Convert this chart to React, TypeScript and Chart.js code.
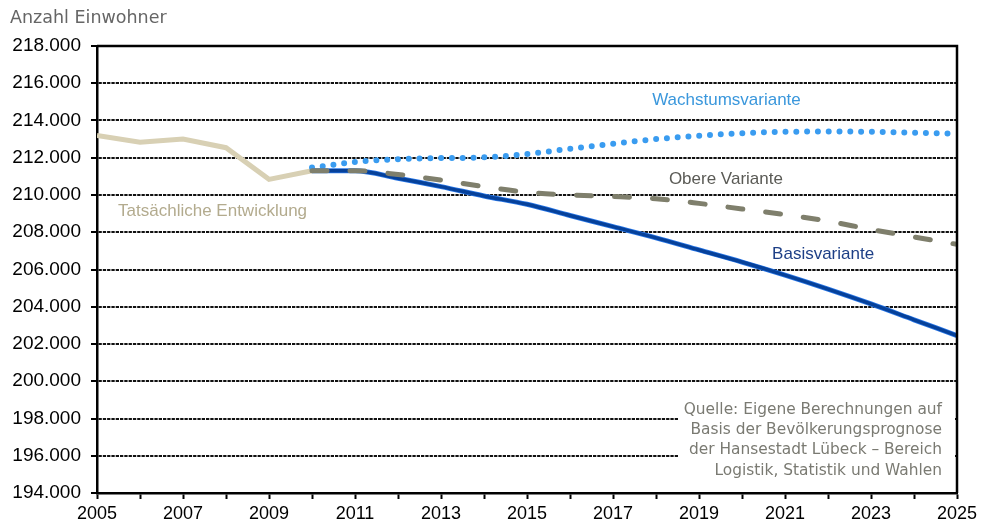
import React, { useEffect, useRef } from "react";
import { Chart, registerables } from "chart.js";

Chart.register(...registerables);

const actualYears = [2005, 2006, 2007, 2008, 2009, 2010];
const actualValues = [213200, 212830, 213000, 212540, 210840, 211300];

const projYears = [2010, 2011, 2012, 2013, 2014, 2015, 2016, 2017, 2018, 2019, 2020, 2021, 2022, 2023, 2024, 2025];
const basisValues = [211300, 211300, 210900, 210450, 209950, 209500, 208900, 208300, 207700, 207050, 206400, 205700, 204950, 204150, 203300, 202450];
const obereValues = [211300, 211300, 211100, 210800, 210450, 210150, 210000, 209920, 209800, 209550, 209250, 208950, 208600, 208150, 207750, 207350];
const wachstumValues = [211470, 211770, 211920, 211980, 212020, 212200, 212480, 212750, 213000, 213180, 213320, 213390, 213410, 213390, 213350, 213280];

const yMin = 194000;
const yMax = 218000;
const yStep = 2000;
const xMin = 2005;
const xMax = 2025;

const yAxisTitle = "Anzahl Einwohner";
const sourceLines = [
  "Quelle: Eigene Berechnungen auf",
  "Basis der Bevölkerungsprognose",
  "der Hansestadt Lübeck – Bereich",
  "Logistik, Statistik und Wahlen",
];

const seriesLabels = [
  { text: "Wachstumsvariante", x: 2017.91, y: 215100, color: "#3a97dc" },
  { text: "Obere Variante", x: 2018.3, y: 210860, color: "#5a5a55" },
  { text: "Basisvariante", x: 2020.7, y: 206830, color: "#1d3f86" },
  { text: "Tatsächliche Entwicklung", x: 2005.49, y: 209140, color: "#b3ab8e" },
];

const toPoints = (xs: number[], ys: number[]) => xs.map((x, i) => ({ x, y: ys[i] }));

const fmt = (v: number) => {
  const s = String(Math.round(v));
  return s.replace(/\B(?=(\d{3})+(?!\d))/g, ".");
};

const overlayPlugin = {
  id: "overlay",
  afterDatasetsDraw(chart: any) {
    const { ctx, chartArea, scales } = chart;
    const xs = scales.x;
    const ys = scales.y;
    ctx.save();

    // source box
    ctx.fillStyle = "#fff";
    ctx.fillRect(chartArea.right - 279, chartArea.bottom - 106, 277, 104);
    ctx.fillStyle = "#7a7a72";
    ctx.font = "15.4px 'DejaVu Sans', sans-serif";
    ctx.textAlign = "right";
    ctx.textBaseline = "middle";
    sourceLines.forEach((l, i) => {
      ctx.fillText(l, chartArea.right - 15, chartArea.bottom - 83 + i * 20.2);
    });

    // frame top & right
    ctx.strokeStyle = "#000";
    ctx.lineWidth = 2.5;
    ctx.beginPath();
    ctx.moveTo(chartArea.left, chartArea.top);
    ctx.lineTo(chartArea.right, chartArea.top);
    ctx.lineTo(chartArea.right, chartArea.bottom);
    ctx.stroke();

    // series labels
    ctx.font = "17px 'Liberation Sans', Arial, sans-serif";
    ctx.textAlign = "left";
    seriesLabels.forEach((s) => {
      ctx.fillStyle = s.color;
      ctx.fillText(s.text, xs.getPixelForValue(s.x), ys.getPixelForValue(s.y));
    });

    // axis title
    ctx.fillStyle = "#666";
    ctx.font = "17.5px 'DejaVu Sans', sans-serif";
    ctx.textAlign = "left";
    ctx.fillText(yAxisTitle, 10, 18);
    ctx.restore();
  },
};

export default function App() {
  const ref = useRef<HTMLCanvasElement | null>(null);
  useEffect(() => {
    if (!ref.current) return;
    const chart = new Chart(ref.current, {
      type: "line",
      data: {
        datasets: [
          {
            label: "Obere Variante",
            data: toPoints(projYears, obereValues),
            borderColor: "#7f7f6c",
            borderWidth: 5,
            borderDash: [15, 23],
            borderCapStyle: "round",
            pointRadius: 0,
            cubicInterpolationMode: "monotone",
            order: 0,
          },
          {
            label: "Basisvariante",
            data: toPoints(projYears, basisValues),
            borderColor: "#06419a",
            borderWidth: 3.5,
            pointRadius: 0,
            cubicInterpolationMode: "monotone",
            order: 1,
          },
          {
            label: "Basis edge",
            data: toPoints(projYears, basisValues),
            borderColor: "#2a78e8",
            borderWidth: 5,
            pointRadius: 0,
            cubicInterpolationMode: "monotone",
            order: 2,
          },
          {
            label: "Wachstumsvariante",
            data: toPoints(projYears, wachstumValues),
            borderColor: "#3a9cf0",
            borderWidth: 6,
            borderDash: [0, 10.8],
            borderCapStyle: "round",
            pointRadius: 0,
            cubicInterpolationMode: "monotone",
            order: 3,
          },
          {
            label: "Tatsächliche Entwicklung",
            data: toPoints(actualYears, actualValues),
            borderColor: "#d8d0b4",
            borderWidth: 5,
            pointRadius: 0,
            tension: 0,
            order: 4,
          },
        ],
      },
      options: {
        animation: false,
        responsive: false,
        maintainAspectRatio: false,
        layout: { padding: { top: 46, right: 26, left: 0, bottom: 0 } },
        plugins: {
          legend: { display: false },
          tooltip: { enabled: false },
          title: { display: false },
        },
        scales: {
          x: {
            type: "linear",
            min: xMin,
            max: xMax,
            afterFit: (s: any) => {
              s.height = 34;
            },
            afterBuildTicks: (s: any) => {
              const t = [];
              for (let v = xMin; v <= xMax; v++) t.push({ value: v });
              s.ticks = t;
            },
            ticks: {
              autoSkip: false,
              maxRotation: 0,
              color: "#000",
              padding: 4,
              font: { size: 18, family: "'Liberation Sans', Arial, sans-serif" },
              callback: (v: any) => ((Number(v) - xMin) % 2 === 0 ? String(v) : ""),
            },
            grid: {
              drawOnChartArea: false,
              drawTicks: true,
              tickLength: 6,
              tickWidth: 2,
              tickColor: "#000",
            },
            border: { display: true, color: "#000", width: 2.5 },
          },
          y: {
            min: yMin,
            max: yMax,
            afterFit: (s: any) => {
              s.width = 97;
            },
            ticks: {
              stepSize: yStep,
              color: "#000",
              padding: 10,
              font: { size: 19, family: "'Liberation Sans', Arial, sans-serif" },
              callback: (v: any) => fmt(Number(v)),
            },
            grid: {
              color: "#111",
              lineWidth: 2,
              drawTicks: true,
              tickLength: 6,
              tickColor: "#000",
              tickWidth: 2,
            },
            border: { display: true, color: "#000", width: 2.5, dash: [3.3, 1] },
          },
        },
      },
      plugins: [overlayPlugin],
    } as any);
    return () => chart.destroy();
  }, []);
  return (
    <div style={{ position: "fixed", left: 0, top: 0, width: 983, height: 527, background: "#fff" }}>
      <canvas ref={ref} width={983} height={527} style={{ width: 983, height: 527, display: "block" }} />
    </div>
  );
}
